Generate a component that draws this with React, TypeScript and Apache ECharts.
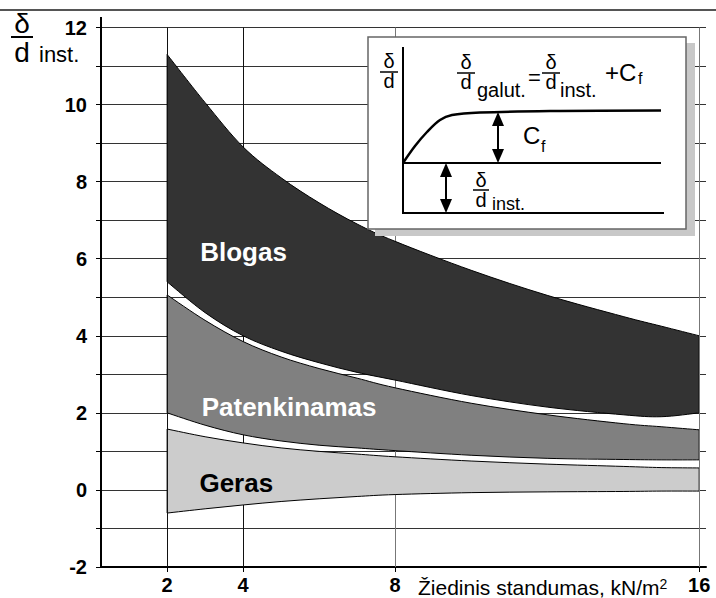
import React, { useEffect, useRef } from "react";
import * as echarts from "echarts";

const FONT = '"Liberation Sans", Arial, Helvetica, sans-serif';

// Ring stiffness (kN/m²) sample points along the bands
const xValues = [2, 3, 4, 5, 6, 7, 8, 10, 12, 14, 15, 16];
// δ/d inst. boundaries of each band
const blogasTop = [11.3, 10.05, 8.9, 8.1, 7.45, 6.9, 6.45, 5.7, 5.05, 4.5, 4.25, 4.0];
const blogasBottom = [5.4, 4.6, 4.0, 3.6, 3.3, 3.05, 2.85, 2.45, 2.15, 1.95, 1.9, 2.0];
const patenkTop = [5.06, 4.4, 3.85, 3.45, 3.15, 2.9, 2.65, 2.25, 1.95, 1.72, 1.64, 1.56];
const patenkBottom = [2.0, 1.68, 1.43, 1.27, 1.16, 1.09, 1.02, 0.9, 0.82, 0.79, 0.78, 0.78];
const gerasTop = [1.58, 1.38, 1.22, 1.09, 1.0, 0.93, 0.86, 0.75, 0.67, 0.61, 0.58, 0.57];
const gerasBottom = [-0.6, -0.49, -0.39, -0.3, -0.23, -0.17, -0.12, -0.07, -0.05, -0.04, -0.03, -0.03];

const bandNames = ["Blogas", "Patenkinamas", "Geras"];
const bandUpper = [blogasTop, patenkTop, gerasTop];
const bandLower = [blogasBottom, patenkBottom, gerasBottom];
const xTickValues = [2, 4, 8, 16];
const yTickLabels = [-2, 0, 2, 4, 6, 8, 10, 12];
const xAxisTitle = "Žiedinis standumas, kN/m";

// label anchor points (data space) for the band names
const bandLabelX = [4.01, 5.21, 3.82];
const bandLabelY = [6.18, 2.15, 0.17];

const bandFill = ["#333333", "#808080", "#cccccc"];
const bandText = ["#ffffff", "#ffffff", "#000000"];

function txt(x: number, y: number, text: string, size: number, extra: any = {}) {
  return {
    type: "text",
    x,
    y,
    z: 110,
    style: {
      text,
      fill: "#000",
      fontSize: size,
      fontFamily: FONT,
      fontWeight: extra.bold ? "bold" : "normal",
      align: extra.align || "center",
      verticalAlign: "middle",
    },
  };
}
function ln(x1: number, y1: number, x2: number, y2: number, w = 2, color = "#000") {
  return {
    type: "line",
    z: 110,
    shape: { x1, y1, x2, y2 },
    style: { stroke: color, lineWidth: w },
  };
}
function tri(pts: number[][]) {
  return { type: "polygon", z: 110, shape: { points: pts }, style: { fill: "#000" } };
}
function arrow(x: number, y1: number, y2: number) {
  return [
    ln(x, y1 + 10, x, y2 - 10, 2),
    tri([[x, y1], [x - 6, y1 + 14], [x + 6, y1 + 14]]),
    tri([[x, y2], [x - 6, y2 - 14], [x + 6, y2 - 14]]),
  ];
}
function frac(cx: number, yTop: number, yBar: number, yBot: number, half: number, size: number, w = 1.5) {
  return [txt(cx, yTop, "δ", size), ln(cx - half, yBar, cx + half, yBar, w), txt(cx, yBot, "d", size)];
}

function buildGraphic() {
  const g: any[] = [];
  g.push({ ...ln(0, 10, 716, 10, 2, "#555"), z: 50 });
  g.push({ ...ln(101, 17, 101, 28, 2), z: 50 });
  // y-axis title δ/d inst.
  g.push(...frac(22, 23, 37, 52, 11, 28, 2));
  g.push(txt(39, 54, "inst.", 22, { align: "left" }));
  // inset
  g.push({ type: "rect", z: 100, shape: { x: 375, y: 43, width: 320, height: 193 }, style: { fill: "#c8c8c8" } });
  g.push({
    type: "rect",
    z: 101,
    shape: { x: 368, y: 37, width: 318, height: 192 },
    style: { fill: "#fff", stroke: "#666", lineWidth: 1.5 },
  });
  g.push(...frac(389, 61, 72, 81, 9, 20));
  g.push(ln(403, 47, 403, 214, 2));
  g.push(ln(403, 213, 664, 213, 2));
  g.push(ln(403, 163, 661, 163, 2));
  g.push({
    type: "polyline",
    z: 110,
    shape: {
      points: [[403, 163], [415, 146], [427, 132], [440, 120], [452, 115], [480, 112.5], [560, 111], [661, 110.5]],
      smooth: 0.35,
    },
    style: { stroke: "#000", lineWidth: 2.5, fill: null },
  });
  g.push(...arrow(498, 112, 163));
  g.push(...arrow(446, 163, 213));
  g.push(txt(523, 135, "C", 24, { align: "left" }));
  g.push(txt(541, 146, "f", 16, { align: "left" }));
  g.push(...frac(481, 180, 190, 200, 8, 20));
  g.push(txt(492, 204, "inst.", 18, { align: "left" }));
  g.push(...frac(466, 62, 73, 82, 9, 20));
  g.push(txt(477, 90, "galut.", 20, { align: "left" }));
  g.push(txt(528, 77, "=", 22, { align: "left" }));
  g.push(...frac(551, 62, 73, 82, 9, 20));
  g.push(txt(560, 90, "inst.", 20, { align: "left" }));
  g.push(txt(605, 72, "+C", 24, { align: "left" }));
  g.push(txt(638, 78, "f", 16, { align: "left" }));
  // x axis title with superscript
  g.push({
    type: "text",
    x: 418,
    y: 587,
    z: 110,
    style: {
      text: "{a|" + xAxisTitle + "}{s|2}",
      fill: "#000",
      align: "left",
      verticalAlign: "middle",
      rich: {
        a: { fontSize: 21, fontFamily: FONT, fill: "#000" },
        s: { fontSize: 14, fontFamily: FONT, fill: "#000", verticalAlign: "top" },
      },
    },
  });
  return g;
}

// Catmull-Rom -> cubic bezier segments through pixel points
function curveSegs(p: number[][]) {
  let d = "";
  for (let i = 0; i < p.length - 1; i++) {
    const p0 = p[i - 1] || p[i];
    const p1 = p[i];
    const p2 = p[i + 1];
    const p3 = p[i + 2] || p2;
    const c1x = p1[0] + (p2[0] - p0[0]) / 6;
    const c1y = p1[1] + (p2[1] - p0[1]) / 6;
    const c2x = p2[0] - (p3[0] - p1[0]) / 6;
    const c2y = p2[1] - (p3[1] - p1[1]) / 6;
    d += ` C${c1x.toFixed(2)},${c1y.toFixed(2)} ${c2x.toFixed(2)},${c2y.toFixed(2)} ${p2[0].toFixed(2)},${p2[1].toFixed(2)}`;
  }
  return d;
}

function renderBand(params: any, api: any) {
  const b = api.value(2);
  const top = xValues.map((x, i) => api.coord([x, bandUpper[b][i]]));
  const bot = xValues.map((x, i) => api.coord([x, bandLower[b][i]])).reverse();
  const d =
    `M${top[0][0].toFixed(2)},${top[0][1].toFixed(2)}` +
    curveSegs(top) +
    ` L${bot[0][0].toFixed(2)},${bot[0][1].toFixed(2)}` +
    curveSegs(bot) +
    " Z";
  const lp = api.coord([api.value(0), api.value(1)]);
  return {
    type: "group",
    children: [
      {
        type: "path",
        shape: { pathData: d },
        style: { fill: bandFill[b], stroke: "#000", lineWidth: 1 },
      },
      {
        type: "text",
        x: lp[0],
        y: lp[1],
        z2: 10,
        style: {
          text: bandNames[b],
          fill: bandText[b],
          fontSize: 26,
          fontWeight: "bold",
          fontFamily: FONT,
          align: "center",
          verticalAlign: "middle",
        },
      },
    ],
  };
}

export default function App() {
  const ref = useRef<HTMLDivElement>(null);
  useEffect(() => {
    if (!ref.current) return;
    const chart = echarts.init(ref.current, null, { renderer: "svg" });
    const gridLinesBehind = {
      type: "line",
      data: [],
      markLine: {
        silent: true,
        z: 1,
        symbol: ["none", "none"],
        label: { show: false },
        lineStyle: { type: "solid", width: 1, color: "#000" },
        data: [
          { xAxis: xTickValues[1], lineStyle: { color: "#111" } },
          { xAxis: xTickValues[2], lineStyle: { color: "#777" } },
        ],
      },
    };
    const gridLinesFront = {
      type: "line",
      data: [],
      markLine: {
        silent: true,
        z: 4,
        symbol: ["none", "none"],
        label: { show: false },
        lineStyle: { type: "solid", width: 1, color: "#000" },
        data: [
          { xAxis: xTickValues[0], lineStyle: { color: "#111" } },
          { xAxis: xTickValues[3], lineStyle: { color: "#777" } },
        ],
      },
    };
    chart.setOption({
      animation: false,
      textStyle: { fontFamily: FONT },
      grid: { left: 101, right: 10, top: 27.5, bottom: 31, containLabel: false },
      xAxis: {
        type: "value",
        min: 0.26,
        max: 16.18,
        axisLine: { show: true, onZero: false, lineStyle: { color: "#000", width: 2 } },
        axisTick: { show: true, customValues: xTickValues, length: 5, lineStyle: { color: "#000", width: 1 } },
        axisLabel: {
          customValues: xTickValues,
          fontSize: 20,
          fontWeight: "bold",
          color: "#000",
          margin: 8,
          fontFamily: FONT,
        },
        splitLine: { show: false },
      },
      yAxis: {
        type: "value",
        min: -2,
        max: 12,
        interval: 1,
        axisLine: { show: true, onZero: false, lineStyle: { color: "#000", width: 2 } },
        axisTick: { show: true, length: 5, lineStyle: { color: "#000", width: 1 } },
        axisLabel: {
          showMinLabel: true,
          showMaxLabel: true,
          formatter: (v: number) => (yTickLabels.indexOf(v) >= 0 ? String(v) : ""),
          fontSize: 20,
          fontWeight: "bold",
          color: "#000",
          margin: 14,
          padding: [0, 0, 10, 0],
          fontFamily: FONT,
        },
        splitLine: { show: true, lineStyle: { color: "#333", width: 1 } },
      },
      graphic: buildGraphic(),
      series: [
        gridLinesBehind,
        {
          type: "custom",
          z: 2,
          clip: false,
          encode: { x: 0, y: 1 },
          renderItem: renderBand,
          data: bandNames.map((n, i) => ({ name: n, value: [bandLabelX[i], bandLabelY[i], i] })),
        },
        gridLinesFront,
      ],
    });
    return () => chart.dispose();
  }, []);
  return (
    <div
      ref={ref}
      style={{ position: "fixed", left: 0, top: 0, width: 716, height: 598, background: "#fff" }}
    />
  );
}
